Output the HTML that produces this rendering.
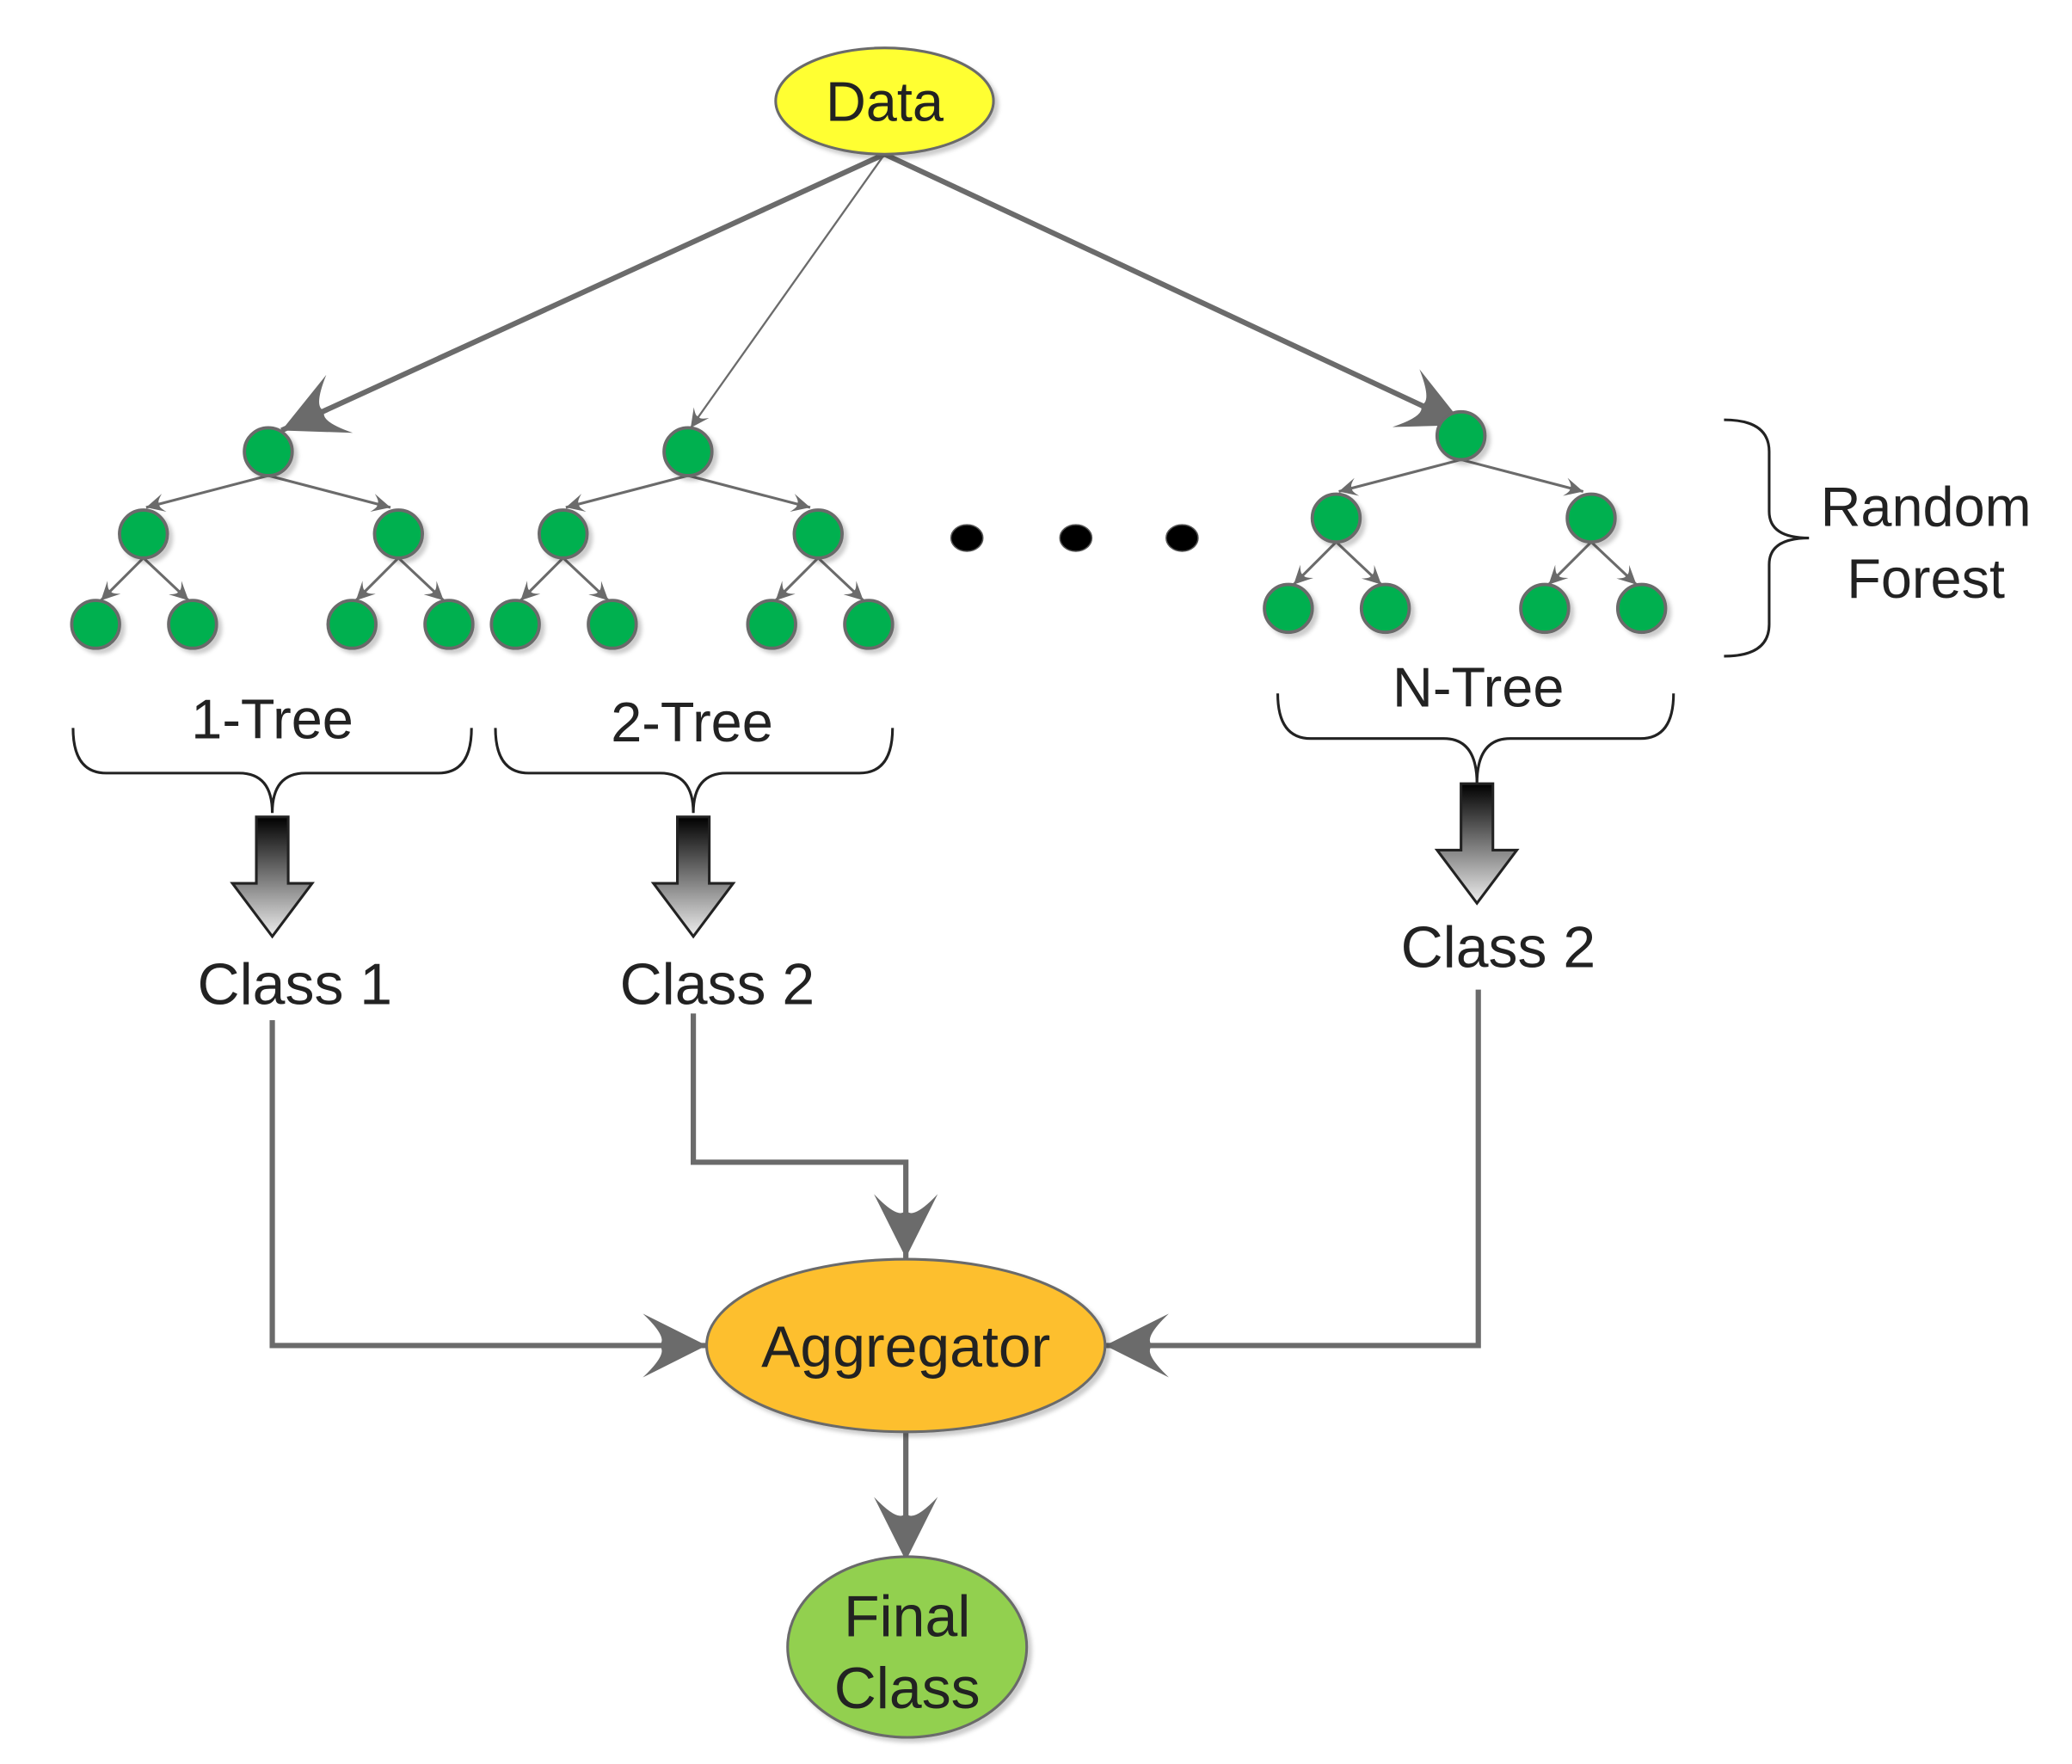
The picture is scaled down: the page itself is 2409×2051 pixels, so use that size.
<!DOCTYPE html>
<html><head><meta charset="utf-8"><style>html,body{margin:0;padding:0;background:#fff}svg{display:block}</style></head>
<body>
<svg width="2409" height="2051" viewBox="0 0 1560 1328" xmlns="http://www.w3.org/2000/svg" font-family="Liberation Sans, Arial, sans-serif">
<defs>
<linearGradient id="ba" x1="0" y1="0" x2="0" y2="1"><stop offset="0" stop-color="#000"/><stop offset="1" stop-color="#eee"/></linearGradient>
<marker id="big" viewBox="-50 -26 52 52" refX="0" refY="0" markerWidth="52" markerHeight="52" markerUnits="userSpaceOnUse" orient="auto"><path d="M0,0 L-48,-24 Q-28,-5 -36,0 Q-28,5 -48,24 Z" fill="#6b6b6b"/></marker>
<marker id="sm" viewBox="-14 -8 16 16" refX="0" refY="0" markerWidth="16" markerHeight="16" markerUnits="userSpaceOnUse" orient="auto"><path d="M0,0 L-14,-7 Q-8,-1 -11,0 Q-8,1 -14,7 Z" fill="#6b6b6b"/></marker>
<filter id="sh"><feDropShadow dx="3" dy="3" stdDeviation="1.5" flood-color="#000" flood-opacity="0.2"/></filter>
<g id="t">
<g stroke="#6b6b6b" stroke-width="2" fill="none">
<line x1="0" y1="18" x2="-92" y2="42" marker-end="url(#sm)"/><line x1="0" y1="18" x2="92" y2="42" marker-end="url(#sm)"/>
<line x1="-94" y1="80" x2="-126" y2="112" marker-end="url(#sm)"/><line x1="-94" y1="80" x2="-60" y2="112" marker-end="url(#sm)"/>
<line x1="98" y1="80" x2="66" y2="112" marker-end="url(#sm)"/><line x1="98" y1="80" x2="132" y2="112" marker-end="url(#sm)"/>
</g>
<g fill="#00b050" stroke="#6b6b6b" stroke-width="2.5" filter="url(#sh)">
<circle cx="0" cy="0" r="18"/><circle cx="-94" cy="62" r="18"/><circle cx="98" cy="62" r="18"/>
<circle cx="-130" cy="130" r="18"/><circle cx="-57" cy="130" r="18"/><circle cx="63" cy="130" r="18"/><circle cx="136" cy="130" r="18"/>
</g>
</g>
</defs>
<g stroke="#6b6b6b" fill="none">
<line x1="666" y1="116" x2="212" y2="324" stroke-width="4" marker-end="url(#big)"/>
<line x1="666" y1="116" x2="520" y2="322" stroke-width="1.5" marker-end="url(#sm)"/>
<line x1="666" y1="116" x2="1102" y2="320" stroke-width="4" marker-end="url(#big)"/>
</g>
<ellipse cx="666" cy="76" rx="82" ry="40" fill="#ffff33" stroke="#6b6b6b" stroke-width="2" filter="url(#sh)"/>
<text x="666" y="91" font-size="42" text-anchor="middle" fill="#222">Data</text>
<use href="#t" transform="translate(202,340)"/>
<use href="#t" transform="translate(518,340)"/>
<use href="#t" transform="translate(1100,328)"/>
<g fill="#000" stroke="#555"><ellipse cx="728" cy="405" rx="12" ry="10"/><ellipse cx="810" cy="405" rx="12" ry="10"/><ellipse cx="890" cy="405" rx="12" ry="10"/></g>
<g font-size="42" fill="#222" text-anchor="middle">
<text x="205" y="556">1-Tree</text><text x="521" y="558">2-Tree</text><text x="1113" y="532">N-Tree</text>
<text x="1450" y="396">Random</text><text x="1450" y="450">Forest</text>
</g>
<g stroke="#222" stroke-width="2" fill="none">
<path d="M55,548 Q55,582 80,582 L180,582 Q205,582 205,612 Q205,582 230,582 L330,582 Q355,582 355,548"/>
<path d="M373,548 Q373,582 398,582 L497,582 Q522,582 522,612 Q522,582 547,582 L647,582 Q672,582 672,548"/>
<path d="M962,522 Q962,556 987,556 L1087,556 Q1112,556 1112,590 Q1112,556 1137,556 L1235,556 Q1260,556 1260,522"/>
<path d="M1298,316 Q1332,316 1332,340 L1332,385 Q1332,405 1362,405 Q1332,405 1332,425 L1332,470 Q1332,494 1298,494"/>
</g>
<g fill="url(#ba)" stroke="#222" stroke-width="2">
<path d="M193,615 H217 V665 H235 L205,705 L175,665 H193 Z"/>
<path d="M510,615 H534 V665 H552 L522,705 L492,665 H510 Z"/>
<path d="M1100,590 H1124 V640 H1142 L1112,680 L1082,640 H1100 Z"/>
</g>
<g font-size="44" fill="#222" text-anchor="middle">
<text x="222" y="756">Class 1</text><text x="540" y="756">Class 2</text><text x="1128" y="728">Class 2</text>
</g>
<g stroke="#6b6b6b" stroke-width="4" fill="none">
<polyline points="205,768 205,1013 532,1013" marker-end="url(#big)"/>
<polyline points="522,763 522,875 682,875 682,947" marker-end="url(#big)"/>
<polyline points="1113,745 1113,1013 832,1013" marker-end="url(#big)"/>
<line x1="682" y1="1078" x2="682" y2="1175" marker-end="url(#big)"/>
</g>
<ellipse cx="682" cy="1013" rx="150" ry="65" fill="#fdbf2d" stroke="#6b6b6b" stroke-width="2" filter="url(#sh)"/>
<text x="682" y="1029" font-size="44" text-anchor="middle" fill="#222">Aggregator</text>
<ellipse cx="683" cy="1240" rx="90" ry="68" fill="#92d050" stroke="#6b6b6b" stroke-width="2" filter="url(#sh)"/>
<text x="683" y="1232" font-size="44" text-anchor="middle" fill="#222">Final</text>
<text x="683" y="1286" font-size="44" text-anchor="middle" fill="#222">Class</text>
</svg>
</body></html>
